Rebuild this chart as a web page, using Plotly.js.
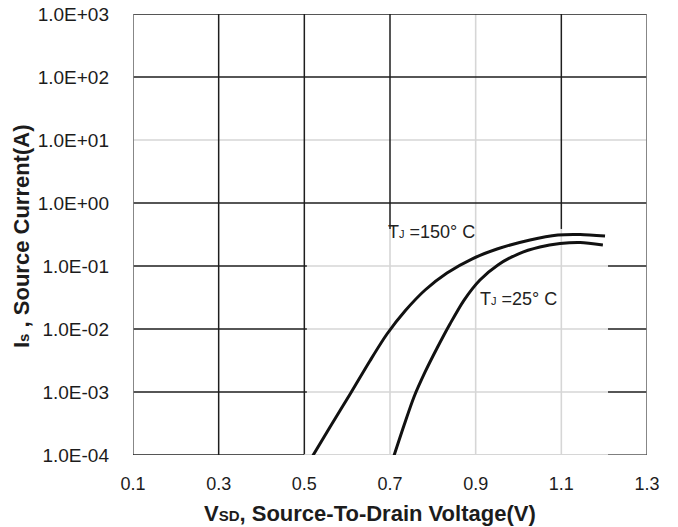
<!DOCTYPE html>
<html><head><meta charset="utf-8">
<script src="https://cdn.plot.ly/plotly-3.0.1.min.js"></script>
<style>html,body{margin:0;padding:0;background:#fff;}#chart{width:678px;height:527px;}</style>
</head><body><div id="chart"></div>
<script>
// ---- data ----
const xTickVals = [0.1, 0.3, 0.5, 0.7, 0.9, 1.1, 1.3];
const xTickText = ['0.1', '0.3', '0.5', '0.7', '0.9', '1.1', '1.3'];
const yTickVals = [1e-4, 1e-3, 1e-2, 1e-1, 1e0, 1e1, 1e2, 1e3];
const yTickText = ['1.0E-04', '1.0E-03', '1.0E-02', '1.0E-01', '1.0E+00', '1.0E+01', '1.0E+02', '1.0E+03'];

const vsd150 = [0.518, 0.560, 0.607, 0.653, 0.693, 0.735, 0.782, 0.833, 0.891, 0.950, 1.027, 1.092, 1.144, 1.202];
const is150  = [9.3e-5, 2.78e-4, 9.3e-4, 3.11e-3, 8.33e-3, 0.0193, 0.0416, 0.0774, 0.129, 0.186, 0.259, 0.310, 0.316, 0.299];
const vsd25  = [0.709, 0.733, 0.756, 0.782, 0.810, 0.840, 0.873, 0.910, 0.952, 0.999, 1.050, 1.097, 1.144, 1.197];
const is25   = [9.6e-5, 2.99e-4, 8.34e-4, 2.08e-3, 4.99e-3, 0.0120, 0.0288, 0.060, 0.104, 0.155, 0.200, 0.227, 0.236, 0.216];

const label150 = 'T<span style="font-size:11px">J</span> =150° C';
const label25  = 'T<span style="font-size:11px">J</span> =25° C';
const xTitle = 'V<span style="font-size:15px">SD</span>, Source-To-Drain Voltage(V)';
const yTitle = 'I<span style="font-size:15px">s</span> , Source Current(A)';

// ---- styling ----
const FONT = 'Liberation Sans, Arial, sans-serif';
const TXT = '#1c1c1c';
const BLACK = '#1e1e1e';
const LIGHT = '#d6d6d6';
const BORDER = '#7a7a7a';
const W = 678, H = 527;
const M = {l: 133, r: 31, t: 14, b: 72};
const xMin = xTickVals[0], xMax = xTickVals[xTickVals.length - 1];
const yMin = yTickVals[0], yMax = yTickVals[yTickVals.length - 1];
// lighter-grid window (lower right of the plot)
const boxX0 = 0.5, boxX0h = 0.506, boxX1 = 1.209, boxTop = 0.387;

function seg(x0, y0, x1, y1, color, w) {
  return {type: 'line', xref: 'x', yref: 'y', x0: x0, y0: y0, x1: x1, y1: y1,
          layer: 'below', line: {color: color, width: w}};
}
const lightShapes = [], darkShapes = [];
xTickVals.slice(1, -1).forEach(function (x) {
  if (Math.abs(x - 0.9) < 1e-9) {
    lightShapes.push(seg(x, yMin, x, yMax, LIGHT, 1.6));
  } else if (x > boxX0 && x < boxX1) {
    lightShapes.push(seg(x, yMin, x, boxTop, LIGHT, 1.6));
    darkShapes.push(seg(x, boxTop, x, yMax, BLACK, 1.5));
  } else {
    darkShapes.push(seg(x, yMin, x, yMax, BLACK, 1.5));
  }
});
yTickVals.slice(1, -1).forEach(function (y) {
  if (Math.abs(Math.log10(y) - 1) < 1e-9) {
    lightShapes.push(seg(xMin, y, xMax, y, LIGHT, 1.6));
  } else if (y < boxTop) {
    darkShapes.push(seg(xMin, y, boxX0h, y, BLACK, 1.5));
    lightShapes.push(seg(boxX0h, y, boxX1, y, LIGHT, 1.6));
    darkShapes.push(seg(boxX1, y, xMax, y, BLACK, 1.5));
  } else {
    darkShapes.push(seg(xMin, y, xMax, y, BLACK, 1.5));
  }
});
const borderShapes = [
  seg(xMin, yMax, xMax, yMax, BLACK, 1.6),
  seg(xMin, yMin, xMin, yMax, BORDER, 1.8),
  seg(xMax, yMin, xMax, yMax, BORDER, 1.8),
  seg(xMin, yMin, boxX0, yMin, BLACK, 1.6),
  seg(boxX0, yMin, boxX1, yMin, LIGHT, 1.8),
  seg(boxX1, yMin, xMax, yMin, '#555', 1.6)
];

const lineStyle = {color: '#111', width: 3, shape: 'spline', smoothing: 0.8};
const traces = [
  {x: vsd150, y: is150, type: 'scatter', mode: 'lines', line: lineStyle, hoverinfo: 'skip'},
  {x: vsd25, y: is25, type: 'scatter', mode: 'lines', line: lineStyle, hoverinfo: 'skip'}
];

const plotH = H - M.t - M.b;
const layout = {
  width: W, height: H,
  margin: M,
  paper_bgcolor: '#fff', plot_bgcolor: '#fff',
  showlegend: false,
  font: {family: FONT, color: TXT},
  xaxis: {
    range: [xMin, xMax], tickvals: xTickVals, ticktext: xTickText,
    showgrid: false, zeroline: false, showline: false, ticks: '',
    tickfont: {size: 18, family: FONT, color: TXT}, ticklabelstandoff: 16
  },
  yaxis: {
    type: 'log', range: [Math.log10(yMin), Math.log10(yMax)],
    tickvals: yTickVals, ticktext: yTickText,
    showgrid: false, zeroline: false, showline: false, ticks: '',
    tickfont: {size: 19, family: FONT, color: TXT}, ticklabelstandoff: 23
  },
  shapes: lightShapes.concat(darkShapes, borderShapes),
  annotations: [
    {text: label150, x: 0.6915, y: -0.456, xref: 'x', yref: 'y',
     showarrow: false, xanchor: 'left', yanchor: 'middle', font: {size: 18, family: FONT, color: '#222'}},
    {text: label25, x: 0.906, y: -1.53, xref: 'x', yref: 'y',
     showarrow: false, xanchor: 'left', yanchor: 'middle', font: {size: 18, family: FONT, color: '#222'}},
    {text: '<b>' + xTitle + '</b>', x: (370 - M.l) / (W - M.l - M.r), y: (H - M.b - 513) / plotH,
     xref: 'paper', yref: 'paper',
     showarrow: false, xanchor: 'center', yanchor: 'middle', font: {size: 22, family: FONT, color: TXT}},
    {text: '<b>' + yTitle + '</b>', x: (21 - M.l) / (W - M.l - M.r), y: (H - M.b - 236) / plotH,
     xref: 'paper', yref: 'paper', textangle: -90,
     showarrow: false, xanchor: 'center', yanchor: 'middle', font: {size: 22, family: FONT, color: TXT}}
  ]
};

Plotly.newPlot('chart', traces, layout, {displayModeBar: false, staticPlot: true});
</script>
</body></html>
